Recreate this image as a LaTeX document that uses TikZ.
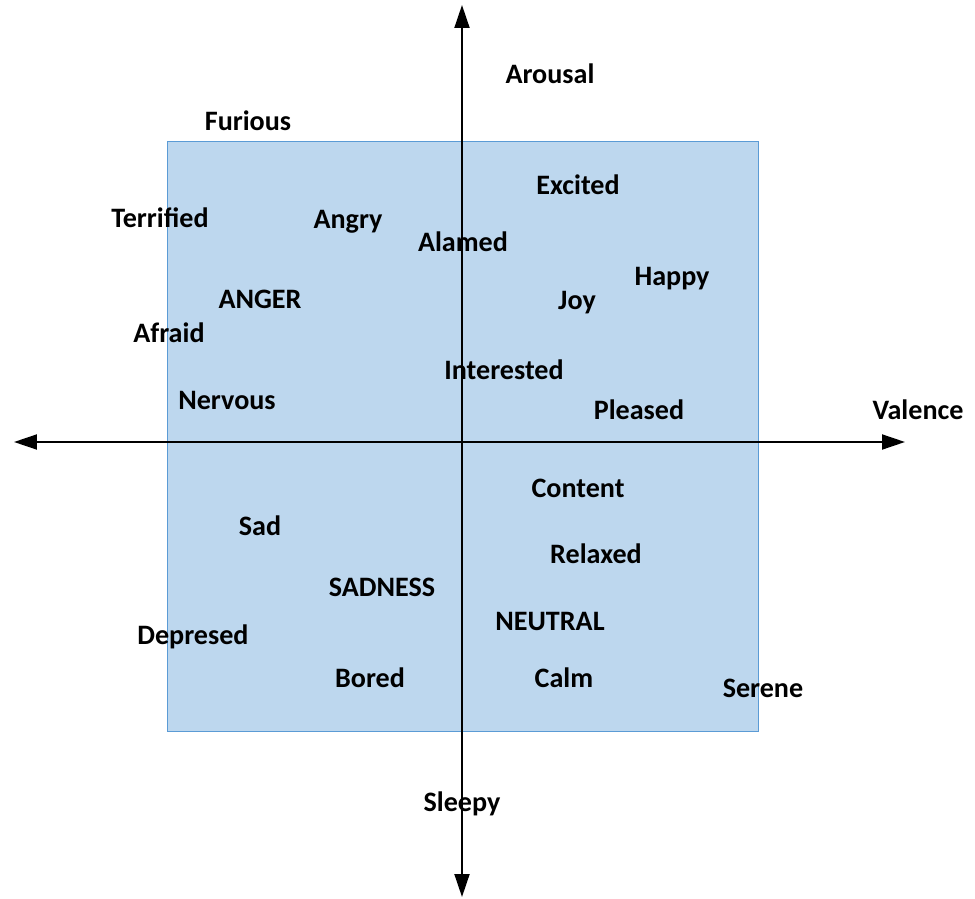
\documentclass[tikz,border=0pt]{standalone}
\usepackage{fontspec}
\setmainfont{Carlito}
\usetikzlibrary{arrows.meta, positioning}
\definecolor{quadfill}{HTML}{BDD7EE}
\definecolor{quadline}{HTML}{5B9BD5}

\begin{document}
\begin{tikzpicture}[
        x=0.02cm, y=-0.02cm,
        word/.style={inner sep=0pt, text height=10.4pt, text depth=0pt, font=\bfseries\fontsize{16}{19}\selectfont},
        axis/.style={{Triangle[length=0.46cm, width=0.3cm]}-{Triangle[length=0.46cm, width=0.3cm]}, line width=1.1pt, draw=black}
    ]
    \useasboundingbox (0,0) rectangle (975,899);
    % emotion plane
    \draw[draw=quadline, fill=quadfill, line width=0.5pt] (167,141) rectangle (758,731);

    % axes
    \coordinate (west) at (14,442);
    \coordinate (east) at (905,442);
    \coordinate (north) at (462,5);
    \coordinate (south) at (462,897);
    \draw[axis] (west) -- (east);
    \draw[axis] (south) -- (north);

    \node[word] (arousal) at (550,74) {Arousal};
    \node[word] (valence) at (918,410) {Valence};
    \node[word] (sleepy) at (462,802) {Sleepy};

    \node[word] (furious) at (248,121) {Furious};
    \node[word] (excited) at (578,185) {Excited};
    \node[word] (terrified) at (160,218) {Terrified};
    \node[word] (angry) at (348,219) {Angry};
    \node[word] (alamed) at (463,242) {Alamed};
    \node[word] (happy) at (672,276) {Happy};
    \node[word] (anger) at (260,299) {ANGER};
    \node[word] (joy) at (577,300) {Joy};
    \node[word] (afraid) at (169,333) {Afraid};
    \node[word] (interested) at (504,370) {Interested};
    \node[word] (nervous) at (227,400) {Nervous};
    \node[word] (pleased) at (639,410) {Pleased};

    \node[word] (content) at (578,488) {Content};
    \node[word] (sad) at (260,526) {Sad};
    \node[word] (relaxed) at (596,554) {Relaxed};
    \node[word] (sadness) at (382,587) {SADNESS};
    \node[word] (neutral) at (550,621) {NEUTRAL};
    \node[word] (depresed) at (193,635) {Depresed};
    \node[word] (bored) at (370,678) {Bored};
    \node[word] (calm) at (564,678) {Calm};
    \node[word] (serene) at (763,688) {Serene};
\end{tikzpicture}
\end{document}
